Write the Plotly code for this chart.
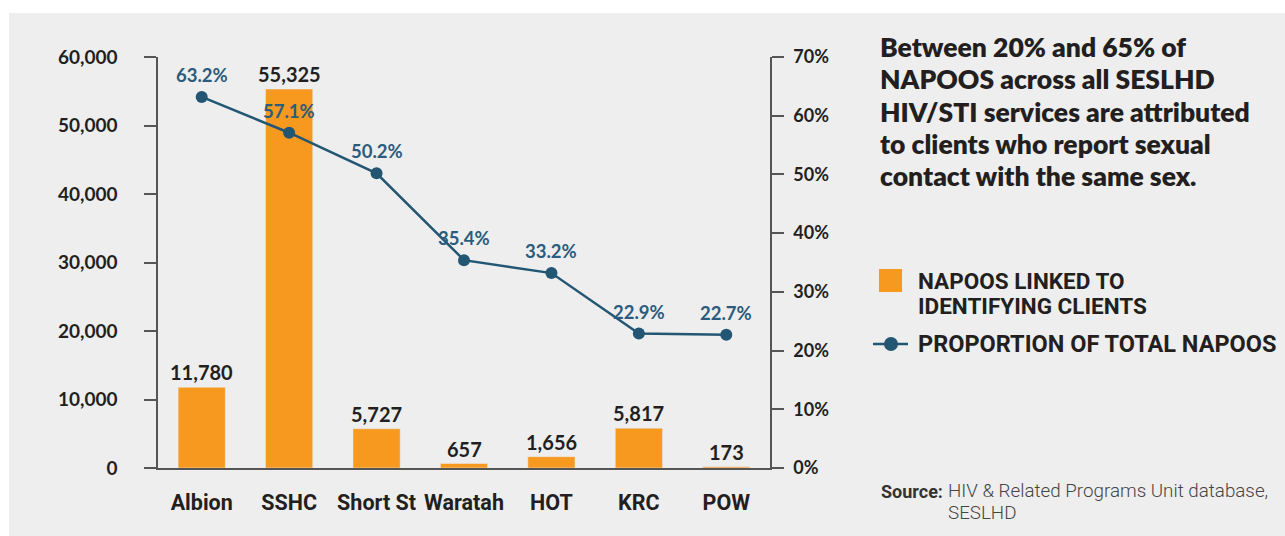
import plotly.graph_objects as go

categories = ["Albion", "SSHC", "Short St", "Waratah", "HOT", "KRC", "POW"]
napoos_linked = [11780, 55325, 5727, 657, 1656, 5817, 173]
proportion_pct = [63.2, 57.1, 50.2, 35.4, 33.2, 22.9, 22.7]

left_ticks = [0, 10000, 20000, 30000, 40000, 50000, 60000]
right_ticks = [0, 10, 20, 30, 40, 50, 60, 70]

title_lines = [
    "Between 20% and 65% of",
    "NAPOOS across all SESLHD",
    "HIV/STI services are attributed",
    "to clients who report sexual",
    "contact with the same sex.",
]
legend_bar_lines = ["NAPOOS LINKED TO", "IDENTIFYING CLIENTS"]
legend_line_label = "PROPORTION OF TOTAL NAPOOS"
source_bold = "Source:"
source_lines = ["HIV & Related Programs Unit database,", "SESLHD"]

W, H = 1285, 536
L, R, T, B = 158, 770, 57, 468

def px(x):
    return (x - L) / (R - L)

def py(y):
    return (B - y) / (B - T)

ORANGE = "#F7991F"
BLUE = "#235673"
TXT = "#231F20"
AX = "#555555"
BG = "#EEEEEE"
SANS = "Roboto"

fig = go.Figure()
fig.add_trace(go.Bar(
    x=categories, y=napoos_linked, marker_color=ORANGE, width=0.54,
    name=legend_bar_lines[0] + " " + legend_bar_lines[1], showlegend=False,
    hoverinfo="x+y",
))
fig.add_trace(go.Scatter(
    x=categories, y=proportion_pct, yaxis="y2", mode="lines+markers",
    line=dict(color=BLUE, width=2.5), marker=dict(color=BLUE, size=12),
    name=legend_line_label, showlegend=False,
))

ann = []
for c, v in zip(categories, napoos_linked):
    ann.append(dict(x=c, y=v, xref="x", yref="y", text=f"{v:,}", showarrow=False,
                    yanchor="middle", yshift=15,
                    font=dict(family="Lato", size=20, color=TXT, weight=700)))
for c, p in zip(categories, proportion_pct):
    ann.append(dict(x=c, y=p, xref="x", yref="y2", text=f"{p:.1f}%", showarrow=False,
                    yanchor="middle", yshift=22,
                    font=dict(family="Lato", size=18.5, color="#2B5C7D", weight=700)))

for i, line in enumerate(title_lines):
    ann.append(dict(x=px(878), y=py(47 + i * 32.25), xref="paper", yref="paper",
                    text=line, showarrow=False, xanchor="left", yanchor="middle",
                    font=dict(family="Lato", size=26.5, color=TXT, weight=800)))

for i, line in enumerate(legend_bar_lines):
    ann.append(dict(x=px(916), y=py(280.5 + i * 25), xref="paper", yref="paper",
                    text=line, showarrow=False, xanchor="left", yanchor="middle",
                    font=dict(family=SANS, size=22.5, color=TXT, weight=700)))
ann.append(dict(x=px(916), y=py(344), xref="paper", yref="paper",
                text=legend_line_label, showarrow=False, xanchor="left", yanchor="middle",
                font=dict(family=SANS, size=23.5, color=TXT, weight=700)))

ann.append(dict(x=px(879), y=py(491), xref="paper", yref="paper",
                text="<b>" + source_bold + "</b>", showarrow=False, xanchor="left", yanchor="middle",
                font=dict(family="Roboto", size=18, color="#333333")))
for i, line in enumerate(source_lines):
    ann.append(dict(x=px(946), y=py(491 + i * 22), xref="paper", yref="paper",
                    text=line, showarrow=False, xanchor="left", yanchor="middle",
                    font=dict(family="Roboto", size=18.8, color="#444444", weight=300)))

shapes = [
    dict(type="rect", xref="paper", yref="paper", x0=px(9), x1=px(W + 5), y0=py(H + 5), y1=py(13),
         fillcolor=BG, line=dict(width=0), layer="below"),
    dict(type="rect", xref="paper", yref="paper", x0=px(879), x1=px(902), y0=py(292), y1=py(269),
         fillcolor=ORANGE, line=dict(width=0)),
    dict(type="line", xref="paper", yref="paper", x0=px(873), x1=px(908), y0=py(344), y1=py(344),
         line=dict(color=BLUE, width=2.5)),
    dict(type="circle", xref="paper", yref="paper", x0=px(884), x1=px(898), y0=py(351), y1=py(337),
         fillcolor=BLUE, line=dict(width=0)),
    dict(type="line", xref="x domain", yref="y", x0=0, x1=0, y0=0, y1=-10,
         ysizemode="pixel", yanchor=0, line=dict(color=AX, width=1.5)),
]

fig.update_layout(
    width=W, height=H,
    margin=dict(l=L, r=W - R, t=T, b=H - B, autoexpand=False),
    paper_bgcolor="white", plot_bgcolor="rgba(0,0,0,0)",
    xaxis=dict(range=[-0.5, 6.5], showline=True, linecolor=AX, linewidth=1.5,
               showgrid=False, zeroline=False, ticks="",
               tickfont=dict(family=SANS, size=21.5, color=TXT, weight=700),
               ticklabelstandoff=14),
    yaxis=dict(range=[0, 60000], tickvals=left_ticks, ticktext=[f"{t:,}" for t in left_ticks],
               showline=True, linecolor=AX, linewidth=1.5, ticks="outside", ticklen=12,
               tickcolor=AX, tickwidth=1.5, showgrid=False, zeroline=False,
               tickfont=dict(family="Lato", size=19, color=TXT, weight=700),
               ticklabelstandoff=23),
    yaxis2=dict(range=[0, 70], overlaying="y", side="right", tickvals=right_ticks,
                ticktext=[f"{t}%" for t in right_ticks],
                showline=True, linecolor=AX, linewidth=1.5, ticks="outside", ticklen=12,
                tickcolor=AX, tickwidth=1.5, showgrid=False, zeroline=False,
                tickfont=dict(family="Lato", size=18, color=TXT, weight=700),
                ticklabelstandoff=6),
    annotations=ann, shapes=shapes, showlegend=False,
)

fig.write_html("out.html", config={"displayModeBar": False},
               post_script="document.body.style.margin='0px';")
